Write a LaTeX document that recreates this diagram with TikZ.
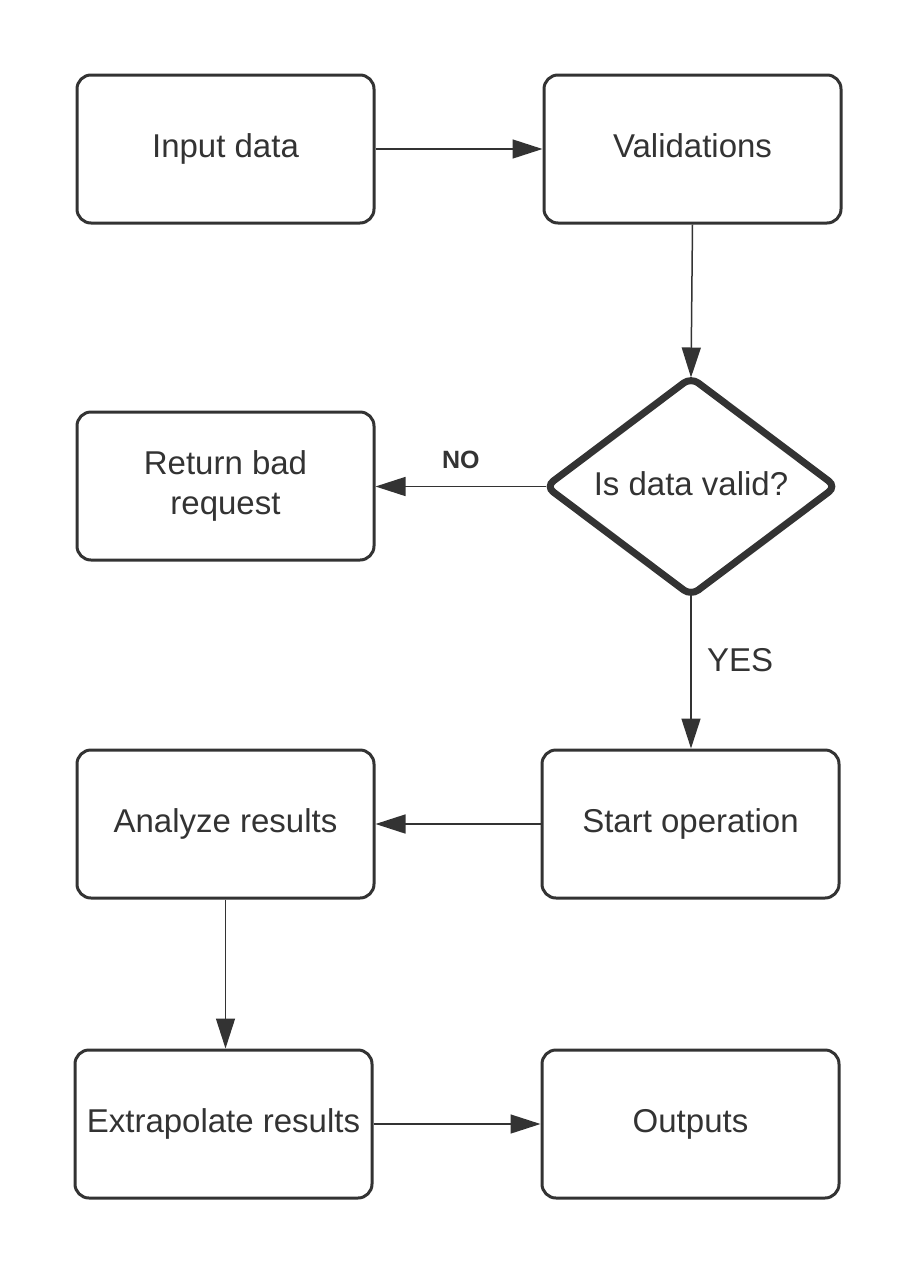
\documentclass[tikz,border=0pt]{standalone}
\usepackage{fontspec}
\setmainfont{Liberation Sans}
\usetikzlibrary{arrows.meta,shapes.geometric,positioning}

\definecolor{ink}{HTML}{333333}
\tikzset{
  box/.style={draw=ink, line width=3pt, rounded corners=14pt, minimum width=297pt, minimum height=148pt, inner sep=0pt, text=ink, font=\fontsize{33}{40}\selectfont, align=center},
  onebox/.style={box, text height=24pt, text depth=7pt},
  decision/.style={draw=ink, line width=7pt, diamond, aspect=1.33, rounded corners=9pt, outer sep=0pt, minimum width=290pt, minimum height=218pt, inner sep=0pt, text=ink, text height=24pt, text depth=7pt, font=\fontsize{33}{40}\selectfont},
  flow/.style={draw=ink, line width=1.5pt, -{Triangle[length=30pt,width=19pt]}},
  tag/.style={text=ink, font=\fontsize{33}{40}\selectfont}
}

\begin{document}
\begin{tikzpicture}[x=1pt,y=-1pt]
  \useasboundingbox (0,0) rectangle (917,1275);

  \node [onebox] (indata) at (225.5,149) {Input data};
  \node [onebox] (valid) at (692.5,149) {Validations};
  \node [box] (bad) at (225.5,486) {Return bad\\request};
  \node [decision] (check) at (691,486.5) {Is data valid?};
  \node [onebox] (start) at (690.5,824) {Start operation};
  \node [onebox] (analyze) at (225.5,824) {Analyze results};
  \node [onebox] (extra) at (223.5,1124) {Extrapolate results};
  \node [onebox] (outputs) at (690.5,1124) {Outputs};

  \draw [flow] (indata.east) -- (valid.west);
  \draw [flow] (valid.south) -- (check.north);
  \draw [flow] (check.west) -- (bad.east |- check.west) node [tag, pos=0.5, above=14pt, font=\bfseries\fontsize{25}{30}\selectfont] (no) {NO};
  \draw [flow] (check.south) -- (start.north -| check.south) node [tag, pos=0.42, right=12pt] (yes) {YES};
  \draw [flow] (start.west) -- (analyze.east);
  \draw [flow] (analyze.south) -- (analyze.south |- extra.north);
  \draw [flow] (extra.east) -- (outputs.west);

\end{tikzpicture}
\end{document}
